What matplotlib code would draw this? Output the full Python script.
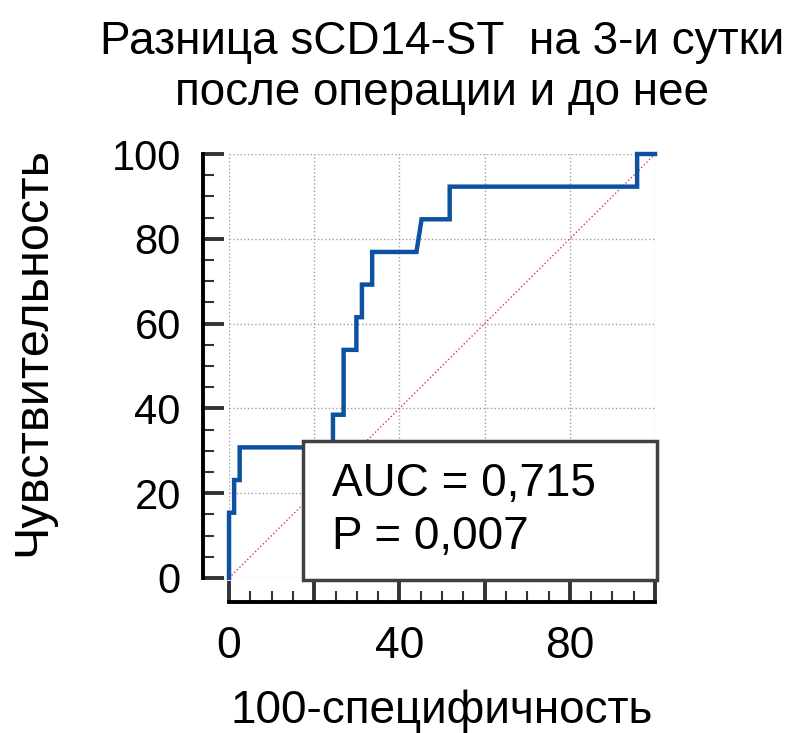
import numpy as np
import matplotlib
matplotlib.use("Agg")
import matplotlib.pyplot as plt
from matplotlib.patches import Rectangle

plt.rcParams['font.family'] = ['Liberation Sans', 'DejaVu Sans']

# ROC curve points (100-specificity, sensitivity)
fpr = [0, 0, 1.2, 1.2, 2.5, 2.5, 24.4, 24.4, 26.9, 26.9, 29.9, 29.9, 31.2, 31.2,
       33.6, 33.6, 44.0, 45.2, 51.8, 51.8, 95.8, 95.8, 100]
tpr = [0, 15.4, 15.4, 23.1, 23.1, 30.8, 30.8, 38.5, 38.5, 53.8, 53.8, 61.5, 61.5, 69.2,
       69.2, 76.9, 76.9, 84.6, 84.6, 92.3, 92.3, 100, 100]
auc_text = "AUC = 0,715"
p_text = "P = 0,007"
title = "Разница sCD14-ST  на 3-и сутки\nпосле операции и до нее"
xlabel = "100-специфичность"
ylabel = "Чувствительность"

fig = plt.figure(figsize=(7.93, 7.33), dpi=100)
ax = fig.add_axes([0.2888, 0.2115, 0.5372, 0.5784])

ax.set_xlim(0, 100)
ax.set_ylim(0, 100)
ax.grid(True, color='#a0a0a0', linestyle=':', linewidth=1)
ax.set_axisbelow(True)

ax.plot([0, 100], [0, 100], color='#d04040', linestyle=':', linewidth=1, clip_on=False)
ax.plot(fpr, tpr, color='#0d52a0', linewidth=3.2, clip_on=False, zorder=3,
        solid_joinstyle='miter')

# statistics box
ax.add_patch(Rectangle((17.4, -0.5), 83.1, 32.8, facecolor='white', edgecolor='#404040',
                       linewidth=2.5, clip_on=False, zorder=4))
ax.text(24.2, 22.2, auc_text, fontsize=33, va='center', ha='left', zorder=5)
ax.text(24.2, 9.6, p_text, fontsize=33, va='center', ha='left', zorder=5)

for s in ['top', 'right']:
    ax.spines[s].set_visible(False)
ax.spines['left'].set_position(('outward', 18.7))
ax.spines['bottom'].set_position(('outward', 17.3))
ax.spines['left'].set_linewidth(2.8)
ax.spines['bottom'].set_linewidth(2.8)

ax.set_xticks([0, 20, 40, 60, 80, 100])
ax.set_xticklabels(['0', '', '40', '', '80', ''])
ax.set_xticks(np.arange(0, 101, 5), minor=True)
ax.set_yticks([0, 20, 40, 60, 80, 100])
ax.set_yticks(np.arange(0, 101, 5), minor=True)
ax.tick_params(which='major', direction='in', length=15, width=2.8, colors='#333333',
               labelcolor='black')
ax.tick_params(which='minor', direction='in', length=8, width=1.5, colors='#333333')
ax.tick_params(axis='x', labelsize=32, pad=17)
ax.tick_params(axis='y', labelsize=30, pad=16)

ax.set_xlabel(xlabel, fontsize=33, labelpad=16)
ax.set_ylabel(ylabel, fontsize=35, va='center')
ax.yaxis.set_label_coords(-0.46, 0.535)
ax.set_title(title, fontsize=33, pad=35, linespacing=1.22)

fig.savefig('out.png', dpi=100)
